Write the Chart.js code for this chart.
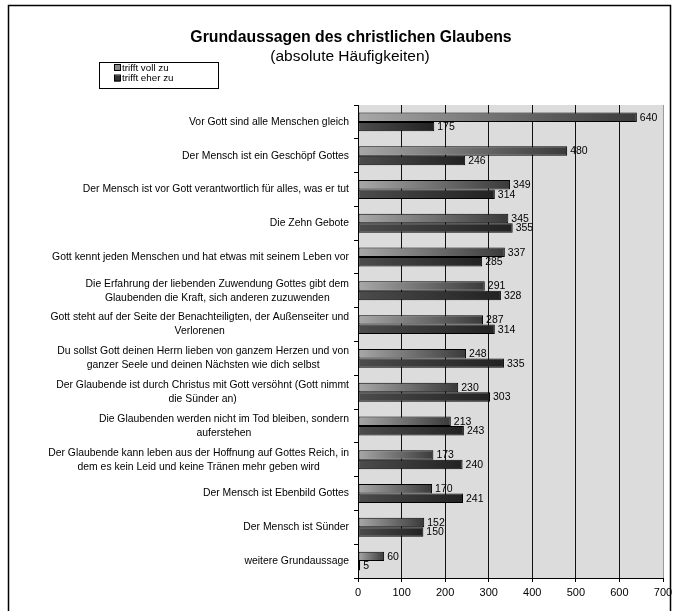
<!DOCTYPE html>
<html lang="de">
<head>
<meta charset="utf-8">
<title>Grundaussagen des christlichen Glaubens</title>
<script src="https://cdn.jsdelivr.net/npm/chart.js@4.4.1/dist/chart.umd.min.js"></script>
<style>
  html, body { margin: 0; padding: 0; background: #ffffff; }
  canvas { display: block; }
</style>
</head>
<body>
<canvas id="chart" width="677" height="611"></canvas>
<script>
// Statements (multi-line ones as arrays of lines)
const statements = [
  "Vor Gott sind alle Menschen gleich",
  "Der Mensch ist ein Geschöpf Gottes",
  "Der Mensch ist vor Gott verantwortlich für alles, was er tut",
  "Die Zehn Gebote",
  "Gott kennt jeden Menschen und hat etwas mit seinem Leben vor",
  ["Die Erfahrung der liebenden Zuwendung Gottes gibt dem", "Glaubenden die Kraft, sich anderen zuzuwenden"],
  ["Gott steht auf der Seite der Benachteiligten, der Außenseiter und", "Verlorenen"],
  ["Du sollst Gott deinen Herrn lieben von ganzem Herzen und von", "ganzer Seele und deinen Nächsten wie dich selbst"],
  ["Der Glaubende ist durch Christus mit Gott versöhnt (Gott nimmt", "die Sünder an)"],
  ["Die Glaubenden werden nicht im Tod bleiben, sondern", "auferstehen"],
  ["Der Glaubende kann leben aus der Hoffnung auf Gottes Reich, in", "dem es kein Leid und keine Tränen mehr geben wird"],
  "Der Mensch ist Ebenbild Gottes",
  "Der Mensch ist Sünder",
  "weitere Grundaussage"
];

// Absolute frequencies per answer
const trifftVollZu  = [640, 480, 349, 345, 337, 291, 287, 248, 230, 213, 173, 170, 152, 60];
const trifftEherZu  = [175, 246, 314, 355, 285, 328, 314, 335, 303, 243, 240, 241, 150, 5];

const seriesNames = ["trifft voll zu", "trifft eher zu"];
const axisTicks = [0, 100, 200, 300, 400, 500, 600, 700];

const titleText = "Grundaussagen des christlichen Glaubens";
const subtitleText = "(absolute Häufigkeiten)";

const FONT = "Arial, 'Liberation Sans', sans-serif";

// gradient stops per series: light at the base, dark at the bar end
const gradientStops = [
  ["#a8a8a8", "#3a3a3a"],
  ["#4c4c4c", "#222222"]
];
const swatchColors = ["#8a8a8a", "#333333"];

function barGradient(c) {
  const chart = c.chart;
  const stops = gradientStops[c.datasetIndex];
  if (c.type !== 'data' || !chart.chartArea || !chart.scales.x) return stops[1];
  const x0 = chart.scales.x.getPixelForValue(0);
  let x1 = chart.scales.x.getPixelForValue(c.raw);
  if (x1 - x0 < 2) x1 = x0 + 2;
  const g = chart.ctx.createLinearGradient(x0, 0, x1, 0);
  g.addColorStop(0, stops[0]);
  g.addColorStop(1, stops[1]);
  return g;
}

// plot background, frame, title, legend box
const decorations = {
  id: 'decorations',
  beforeDraw(chart) {
    const { ctx, chartArea: a } = chart;
    ctx.save();
    ctx.fillStyle = "#ffffff";
    ctx.fillRect(0, 0, chart.width, chart.height);
    ctx.fillStyle = "#dcdcdc";
    ctx.fillRect(a.left, a.top, a.right - a.left, a.bottom - a.top);
    ctx.restore();
  },
  afterDraw(chart) {
    const { ctx } = chart;
    ctx.save();
    // outer frame
    ctx.strokeStyle = "#000";
    ctx.lineWidth = 1.5;
    ctx.strokeRect(8.5, 5.5, 662, 640);

    // title and subtitle
    ctx.fillStyle = "#000";
    ctx.textAlign = "center";
    ctx.textBaseline = "middle";
    ctx.font = "bold 15.8px " + FONT;
    ctx.fillText(titleText, 351, 38);
    ctx.font = "15.5px " + FONT;
    ctx.fillText(subtitleText, 350, 57);

    // legend box
    ctx.lineWidth = 1;
    ctx.strokeRect(99.5, 62.5, 119, 26);
    ctx.font = "9.8px " + FONT;
    ctx.textAlign = "left";
    seriesNames.forEach((name, i) => {
      const y = 68 + i * 10.5;
      ctx.fillStyle = swatchColors[i];
      ctx.fillRect(114, y - 3, 6, 6);
      ctx.strokeStyle = "#000";
      ctx.strokeRect(114.5, y - 3.5, 6, 6);
      ctx.fillStyle = "#000";
      ctx.fillText(name, 122, y);
    });
    ctx.restore();
  }
};

// category labels: block right-aligned at the axis, lines centred within the block
const categoryLabels = {
  id: 'categoryLabels',
  afterDraw(chart) {
    const { ctx } = chart;
    const yScale = chart.scales.y;
    const rightEdge = chart.chartArea.left - 9;
    const lineH = 14;
    ctx.save();
    ctx.font = "10.4px " + FONT;
    ctx.fillStyle = "#000";
    ctx.textAlign = "center";
    ctx.textBaseline = "middle";
    statements.forEach((lab, i) => {
      const lines = Array.isArray(lab) ? lab : [lab];
      const w = Math.max(...lines.map(l => ctx.measureText(l).width));
      const cx = rightEdge - w / 2;
      const yc = yScale.getPixelForValue(i);
      lines.forEach((l, k) => {
        ctx.fillText(l, cx, yc + (k - (lines.length - 1) / 2) * lineH);
      });
    });
    ctx.restore();
  }
};

// value labels at the bar ends
const valueLabels = {
  id: 'valueLabels',
  afterDatasetsDraw(chart) {
    const { ctx } = chart;
    ctx.save();
    ctx.font = "10.5px " + FONT;
    ctx.fillStyle = "#000";
    ctx.textAlign = "left";
    ctx.textBaseline = "middle";
    chart.data.datasets.forEach((ds, di) => {
      chart.getDatasetMeta(di).data.forEach((bar, i) => {
        ctx.fillText(String(ds.data[i]), bar.x + 3, bar.y + 0.5);
      });
    });
    ctx.restore();
  }
};

new Chart(document.getElementById("chart"), {
  type: "bar",
  data: {
    labels: statements,
    datasets: [
      { label: seriesNames[0], data: trifftVollZu, backgroundColor: barGradient },
      { label: seriesNames[1], data: trifftEherZu, backgroundColor: barGradient }
    ]
  },
  options: {
    indexAxis: "y",
    responsive: false,
    animation: false,
    devicePixelRatio: 1,
    layout: { padding: { top: 105, right: 14, bottom: 0, left: 0 } },
    datasets: {
      bar: {
        borderColor: "#000",
        borderWidth: 1,
        borderSkipped: false,
        categoryPercentage: 0.56,
        barPercentage: 1.0
      }
    },
    plugins: {
      legend: { display: false },
      title: { display: false },
      tooltip: { enabled: false }
    },
    scales: {
      x: {
        min: axisTicks[0],
        max: axisTicks[axisTicks.length - 1],
        afterBuildTicks(scale) { scale.ticks = axisTicks.map(v => ({ value: v })); },
        afterFit(scale) { scale.height = 33; },
        grid: {
          color: (c) => (c.tick && c.tick.value === 700) ? "#9a9a9a" : "#111",
          lineWidth: 1,
          drawTicks: true,
          tickLength: 4,
          tickColor: "#000"
        },
        border: { display: true, color: "#000", width: 1 },
        ticks: {
          color: "#000",
          font: { family: FONT, size: 11 },
          padding: 4,
          maxRotation: 0
        }
      },
      y: {
        afterFit(scale) { scale.width = 358; },
        grid: {
          offset: true,
          drawOnChartArea: false,
          drawTicks: true,
          tickLength: 4,
          tickColor: "#000",
          color: "#000"
        },
        border: { display: true, color: "#000", width: 1 },
        ticks: { display: false }
      }
    }
  },
  plugins: [decorations, categoryLabels, valueLabels]
});
</script>
</body>
</html>
